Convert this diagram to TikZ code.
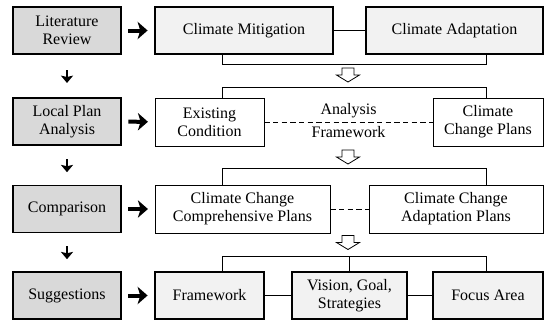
\documentclass[tikz,border=0pt]{standalone}
\usepackage{fontspec}
\setmainfont{Liberation Serif}
\usetikzlibrary{arrows.meta,calc,positioning}

\definecolor{stagegray}{HTML}{D9D9D9}
\definecolor{boxgray}{HTML}{F2F2F2}

\begin{document}
\begin{tikzpicture}[x=0.75pt,y=-0.75pt,
  every node/.style={font=\fontsize{12}{13.5}\selectfont,align=center,inner sep=0pt},
  stage/.style={rectangle,draw,line width=1.1pt,fill=stagegray,minimum width=81pt,minimum height=35.25pt},
  keybox/.style={rectangle,draw,line width=1.1pt,fill=boxgray,minimum height=35.25pt},
  plainbox/.style={rectangle,draw,line width=0.6pt,fill=white,minimum height=36pt},
  link/.style={line width=0.6pt},
  bigarrow/.style={line width=3pt,-{Stealth[length=7.5pt,width=13pt,inset=2pt]},shorten <=5pt,shorten >=5pt},
  smallarrow/.style={line width=2pt,-{Stealth[length=5.5pt,width=9pt,inset=1pt]}},
  hollow/.style={line width=0.6pt,fill=white}]

  \useasboundingbox (0,0) rectangle (545,322);

  % steps on the left
  \node[stage] (lit) at (67,30.5) {Literature\\Review};
  \node[stage] (loc) at (67,121.5) {Local Plan\\Analysis};
  \node[stage] (cmp) at (67,209) {Comparison};
  \node[stage] (sug) at (67,295.5) {Suggestions};

  % contents of each step
  \node[keybox,minimum width=133.5pt] (mit) at (244,30.5) {Climate Mitigation};
  \node[keybox,minimum width=132.75pt] (ada) at (454.5,30.5) {Climate Adaptation};
  \node[plainbox,minimum width=81.75pt] (exi) at (209.5,122) {Existing\\Condition};
  \node[plainbox,minimum width=82.5pt] (ccp) at (488,122) {Climate\\Change Plans};
  \node[plainbox,minimum width=131.25pt] (com) at (242.5,209) {Climate Change\\Comprehensive Plans};
  \node[plainbox,minimum width=130.5pt] (adp) at (456,209) {Climate Change\\Adaptation Plans};
  \node[keybox,minimum width=81.75pt] (frm) at (209.5,295.5) {Framework};
  \node[keybox,minimum width=86.25pt] (vis) at (349.5,295.5) {Vision, Goal,\\Strategies};
  \node[keybox,minimum width=82.5pt] (foc) at (488,295.5) {Focus Area};

  \coordinate (sL) at (222,0);
  \coordinate (sR) at (486,0);
  \coordinate (h1) at (348,75);
  \coordinate (h2) at (348,157);
  \coordinate (h3) at (348,242.5);

  % arrows between and beside the steps
  \foreach \a/\b in {lit/mit,loc/exi,cmp/com,sug/frm}
    \draw[bigarrow] (\a) -- (\b);
  \foreach \a/\b in {lit/loc,loc/cmp,cmp/sug}
    \draw[smallarrow] ($(\a.south)!.5!(\b.north)+(0,-6)$) -- ($(\a.south)!.5!(\b.north)+(0,7)$);

  % links inside the rows
  \draw[link] (mit) -- (ada);
  \draw[link,dash pattern=on 4pt off 2.5pt] (exi) -- node[above=3pt] {Analysis} node[below=3pt] {Framework} (ccp);
  \draw[link,dash pattern=on 4pt off 2.5pt] (com) -- (adp);
  \draw[link] (frm) -- (vis) -- (foc);

  % brackets
  \draw[link] (mit.south -| sL) -- ++(0,10) -| (ada.south -| sR);
  \draw[link] (exi.north -| sL) -- ++(0,-10) -| (ccp.north -| sR);
  \draw[link] (com.north -| sL) -- ++(0,-16) -| (adp.north -| sR);
  \draw[link] (frm.north -| sL) -- ++(0,-15) -| (foc.north -| sR);
  \draw[link] (vis.north) -- ++(0,-15);

  \foreach \h in {h1,h2,h3}
    \draw[hollow] (\h) ++(-6,-7) -- ++(12,0) -- ++(0,7) -- ++(5.5,0)
      -- ++(-11.5,7) -- ++(-11.5,-7) -- ++(5.5,0) -- cycle;
\end{tikzpicture}
\end{document}
